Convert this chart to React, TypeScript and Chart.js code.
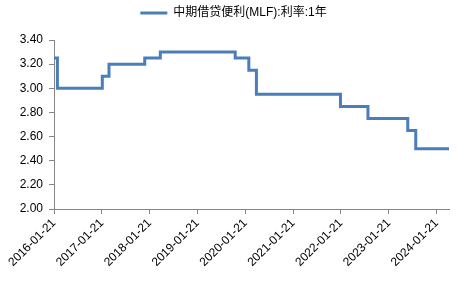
import React, { useEffect, useRef } from "react";
import { Chart, registerables } from "chart.js";

Chart.register(...registerables);

const seriesName = "中期借贷便利(MLF):利率:1年";
const changeDates = [
  "2016-01-21", "2016-02-16", "2017-01-24", "2017-03-16", "2017-12-14",
  "2018-04-12", "2019-11-05", "2020-02-17", "2020-04-15", "2022-01-17",
  "2022-08-15", "2023-06-15", "2023-08-15", "2024-04-25",
];
const rates = [3.25, 3.0, 3.1, 3.2, 3.25, 3.3, 3.25, 3.15, 2.95, 2.85, 2.75, 2.65, 2.5, 2.5];
const xTickDates = [
  "2016-01-21", "2017-01-21", "2018-01-21", "2019-01-21", "2020-01-21",
  "2021-01-21", "2022-01-21", "2023-01-21", "2024-01-21",
];
const yTicks = [2.0, 2.2, 2.4, 2.6, 2.8, 3.0, 3.2, 3.4];

const dayNum = (s: string) => {
  const [y, m, d] = s.split("-").map(Number);
  return Date.UTC(y, m - 1, d) / 86400000;
};
const fmtDay = (n: number) => {
  const dt = new Date(Math.round(n) * 86400000);
  const p = (v: number) => String(v).padStart(2, "0");
  return `${dt.getUTCFullYear()}-${p(dt.getUTCMonth() + 1)}-${p(dt.getUTCDate())}`;
};

const FONT = "'Liberation Sans', 'Noto Sans CJK SC', Arial, sans-serif";
const BLUE = "#4A7EBB";
const AXIS = "#868686";

const legendHeightPlugin = {
  id: "legendHeight",
  beforeLayout(chart: any) {
    const lg = chart.legend;
    if (lg && !lg.__patched) {
      const orig = lg.fit;
      lg.fit = function () {
        orig.call(this);
        this.height = 40;
      };
      lg.__patched = true;
    }
  },
  afterLayout(chart: any) {
    const lg = chart.legend;
    if (lg) {
      lg.left += 5;
      lg.right += 5;
    }
  },
};

export default function App() {
  const ref = useRef<HTMLCanvasElement | null>(null);
  useEffect(() => {
    if (!ref.current) return;
    const points = changeDates.map((d, i) => ({ x: dayNum(d), y: rates[i] }));
    const chart = new Chart(ref.current, {
      type: "line",
      data: {
        datasets: [
          {
            label: seriesName,
            data: points,
            borderColor: BLUE,
            backgroundColor: BLUE,
            borderWidth: 3,
            pointRadius: 0,
            stepped: "before",
            fill: false,
          },
        ],
      },
      plugins: [legendHeightPlugin],
      options: {
        animation: false,
        responsive: false,
        maintainAspectRatio: false,
        layout: { padding: { left: 8, right: 22, top: 0, bottom: 0 } },
        plugins: {
          tooltip: { enabled: false },
          legend: {
            display: true,
            position: "top",
            labels: {
              boxWidth: 27,
              boxHeight: 3,
              padding: 7,
              color: "#000",
              font: { family: FONT, size: 12 },
              generateLabels: (c: any) => {
                const items = Chart.defaults.plugins.legend.labels.generateLabels(c);
                return items.map((it: any) => ({ ...it, lineWidth: 0, fillStyle: BLUE, strokeStyle: BLUE }));
              },
            },
          },
        },
        scales: {
          x: {
            type: "linear",
            min: dayNum(changeDates[0]),
            max: dayNum(changeDates[changeDates.length - 1]),
            afterBuildTicks: (s: any) => {
              s.ticks = xTickDates.map((d) => ({ value: dayNum(d) }));
            },
            afterFit: (s: any) => {
              s.height = 72;
            },
            ticks: {
              autoSkip: false,
              minRotation: 45,
              maxRotation: 45,
              color: "#000",
              font: { family: FONT, size: 12 },
              padding: 2,
              callback: (v: any) => fmtDay(Number(v)),
            },
            grid: {
              drawOnChartArea: false,
              drawTicks: true,
              tickLength: 5,
              color: AXIS,
            },
            border: { display: true, color: AXIS, width: 1 },
          },
          y: {
            min: 2.0,
            max: 3.4,
            afterBuildTicks: (s: any) => {
              s.ticks = yTicks.map((v) => ({ value: v }));
            },
            afterFit: (s: any) => {
              s.width = 46;
            },
            ticks: {
              color: "#000",
              font: { family: FONT, size: 12 },
              padding: 6,
              callback: (v: any) => Number(v).toFixed(2),
            },
            grid: {
              drawOnChartArea: false,
              drawTicks: true,
              tickLength: 5,
              color: AXIS,
            },
            border: { display: true, color: AXIS, width: 1 },
          },
        },
      },
    });
    return () => chart.destroy();
  }, []);
  return (
    <div style={{ position: "fixed", left: 0, top: 0, width: 471, height: 281, background: "#fff" }}>
      <canvas ref={ref} width={471} height={281} style={{ width: 471, height: 281 }} />
    </div>
  );
}
